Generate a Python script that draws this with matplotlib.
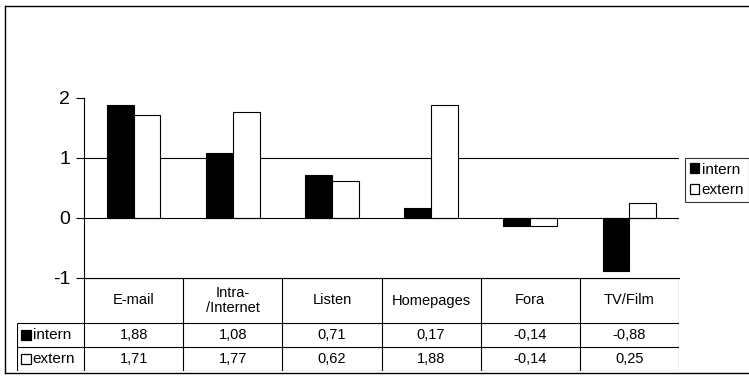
"""Grouped bar chart (intern/extern) with an Excel-style data table below."""

import matplotlib

matplotlib.use("Agg")
import matplotlib.pyplot as plt
from matplotlib.lines import Line2D
from matplotlib.patches import Patch

plt.rcParams["font.family"] = ["Liberation Sans", "DejaVu Sans"]

# Data
categories = ["E-mail", "Intra-\n/Internet", "Listen", "Homepages", "Fora", "TV/Film"]
intern = [1.88, 1.08, 0.71, 0.17, -0.14, -0.88]
extern = [1.71, 1.77, 0.62, 1.88, -0.14, 0.25]
series_names = ["intern", "extern"]
yticks = [-1, 0, 1, 2]

# Style
W, H = 749, 378
LINE_W = 0.8
BAR_W = 0.27
TEXT_SIZE = 10.5
LABEL_SIZE = 11
TICK_SIZE = 14


def fx(px):
    return px / W


def fy(py):
    return 1 - py / H


fig = plt.figure(figsize=(W / 100, H / 100), dpi=100)
fig.patch.set_facecolor("white")

# Plot area: x 84..679 px, y 98..278 px
x0, x1 = 84, 679
y_top, y_bot = 98, 278
ax = fig.add_axes([fx(x0), fy(y_bot), fx(x1) - fx(x0), fy(y_top) - fy(y_bot)])
n = len(categories)
centers = [i + 0.5 for i in range(n)]
ax.bar([c - BAR_W for c in centers], intern, width=BAR_W, align="edge",
       color="black", edgecolor="black", linewidth=LINE_W, zorder=3)
ax.bar(centers, extern, width=BAR_W, align="edge",
       color="white", edgecolor="black", linewidth=LINE_W, zorder=3)
ax.axhline(1, color="black", linewidth=LINE_W, zorder=1)
ax.axhline(0, color="black", linewidth=LINE_W, zorder=4)
ax.set_xlim(0, n)
ax.set_ylim(-1, 2)
ax.set_yticks(yticks)
ax.set_yticklabels([str(t) for t in yticks], fontsize=TICK_SIZE)
ax.set_xticks([])
ax.tick_params(axis="y", direction="out", length=6, width=LINE_W, pad=4)
for side in ("top", "right"):
    ax.spines[side].set_visible(False)
ax.spines["left"].set_linewidth(LINE_W)
ax.spines["bottom"].set_linewidth(LINE_W)

# Data table: x 17..679 px, y 278..371 px
t_left, t_bot = 17, 371
unit_px = (x1 - x0) / n
label_w = (x0 - t_left) / unit_px
head_h = 45 / 24
total_h = head_h + 2
tax = fig.add_axes([fx(t_left), fy(t_bot), fx(x1) - fx(t_left), fy(y_bot) - fy(t_bot)])
tax.set_xlim(-label_w, n)
tax.set_ylim(total_h, 0)
tax.set_axis_off()

kw = dict(color="black", linewidth=LINE_W, solid_capstyle="butt")
tax.plot([0, n], [0, 0], **kw)
for yy in (head_h, head_h + 1, head_h + 2):
    tax.plot([-label_w, n], [yy, yy], **kw)
tax.plot([-label_w, -label_w], [head_h, total_h], **kw)
for i in range(n + 1):
    tax.plot([i, i], [0, total_h], **kw)

for c, name in zip(centers, categories):
    tax.text(c, head_h / 2, name, ha="center", va="center", fontsize=TEXT_SIZE,
             linespacing=1.05)

rows = [intern, extern]
faces = ["black", "white"]
for r, (name, vals, face) in enumerate(zip(series_names, rows, faces)):
    yy = head_h + r + 0.5
    tax.plot([-label_w + 9 / unit_px], [yy], marker="s", markersize=7,
             markerfacecolor=face, markeredgecolor="black", markeredgewidth=0.9)
    tax.text(-label_w + 15.5 / unit_px, yy, name, ha="left", va="center",
             fontsize=LABEL_SIZE)
    for c, v in zip(centers, vals):
        tax.text(c, yy, f"{v:.2f}".replace(".", ","), ha="center", va="center",
                 fontsize=TEXT_SIZE)

# Legend
handles = [Patch(facecolor=f, edgecolor="black", linewidth=0.9) for f in faces]
leg = fig.legend(handles, series_names, loc="upper left",
                 bbox_to_anchor=(fx(685), fy(158)), fontsize=LABEL_SIZE,
                 frameon=True, fancybox=False, borderaxespad=0,
                 handlelength=0.6, handleheight=0.6, handletextpad=0.2,
                 borderpad=0.3, labelspacing=0.45)
leg.get_frame().set_edgecolor("black")
leg.get_frame().set_linewidth(LINE_W)

# Outer chart border (right side runs off the image)
for xs, ys in (([5, W + 5], [6, 6]), ([5, 5], [6, 373]), ([5, W + 5], [373, 373])):
    fig.add_artist(Line2D([fx(x) for x in xs], [fy(y) for y in ys],
                          color="black", linewidth=1.0))

fig.savefig("out.png", dpi=100, facecolor="white")
